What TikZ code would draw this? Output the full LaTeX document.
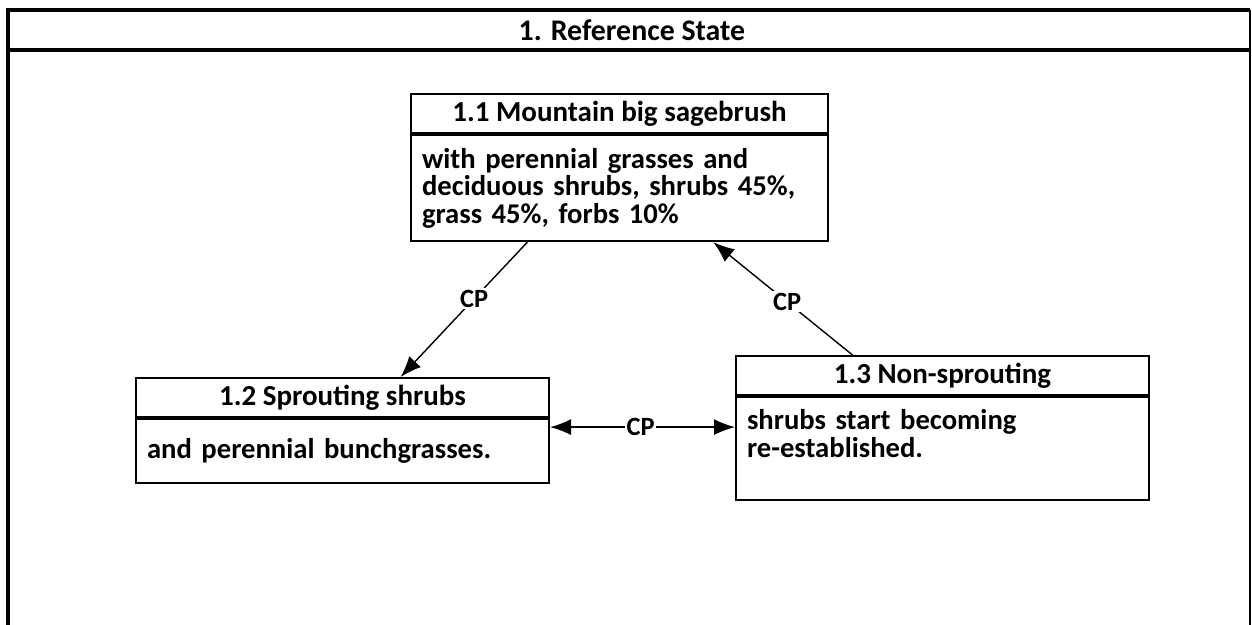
\documentclass[tikz,border=0pt]{standalone}
\usepackage{fontspec}
\setmainfont{Carlito}
\usetikzlibrary{calc}
\usetikzlibrary{positioning}
\usetikzlibrary{arrows.meta}
\tikzset{
frame/.style={draw,black,line width=2.2pt},
head/.style={draw,black,line width=1.2pt,inner sep=0cm,minimum height=0.78cm,font=\bfseries\fontsize{16.5}{18}\selectfont,anchor=north west},
body/.style={draw,black,line width=1.2pt,align=left,inner xsep=0.22cm,inner ysep=0cm,font=\bfseries\fontsize{16.3}{15.6}\selectfont},
link/.style={black,line width=0.8pt,-{Latex[length=0.42cm,width=0.32cm]}},
cp/.style={fill=white,inner sep=1pt,font=\bfseries\fontsize{15}{16}\selectfont}
}
\begin{document}
\begin{tikzpicture}[x=0.02cm,y=-0.02cm]
    \useasboundingbox (0,0) rectangle (1252,625);
    %
    \node[font=\bfseries\fontsize{17}{18}\selectfont](title) at (632,30) {1. Reference State};
    \draw[frame] (8,625) -- (8,10) -- (1250,10);
    \draw[frame] (8,50) -- (1250,50);
    \draw[black,line width=0.6pt] (1250,10) -- (1250,625);
    %
    \node[head, minimum width=8.34cm](s11h) at (410,93) {1.1 Mountain big sagebrush};
    \node[body, below=0cm of s11h, minimum width=8.34cm, text width=7.9cm, minimum height=2.12cm](s11b)
    {with perennial grasses and\\deciduous shrubs, shrubs 45\%,\\grass 45\%, forbs 10\%};
    %
    \node[head, minimum width=8.26cm](s12h) at (135,377) {1.2 Sprouting shrubs};
    \node[body, below=0cm of s12h, minimum width=8.26cm, text width=7.82cm, minimum height=1.28cm](s12b)
    {and perennial bunchgrasses.};
    %
    \node[head, minimum width=8.26cm](s13h) at (735,355) {1.3 Non-sprouting};
    \node[body, below=0cm of s13h, minimum width=8.26cm, text width=7.82cm, minimum height=2.06cm, text depth=1.15cm](s13b)
    {shrubs start becoming\\re-established.};
    %
    \draw[link] ($(s11b.south west)!0.28!(s11b.south east)$) -- node[cp, pos=0.42] {CP}
    ($(s12h.north west)!0.64!(s12h.north east)$);
    \draw[link] ($(s13h.north west)!0.283!(s13h.north east)$) -- node[cp, pos=0.47] {CP}
    ($(s11b.south west)!0.724!(s11b.south east)$);
    \coordinate (mid) at ([yshift=-0.18cm]s12b.north east);
    \draw[link,{Latex[length=0.42cm,width=0.32cm]}-{Latex[length=0.42cm,width=0.32cm]}]
    (mid) -- node[cp, pos=0.49] {CP} (mid -| s13b.west);
\end{tikzpicture}
\end{document}
